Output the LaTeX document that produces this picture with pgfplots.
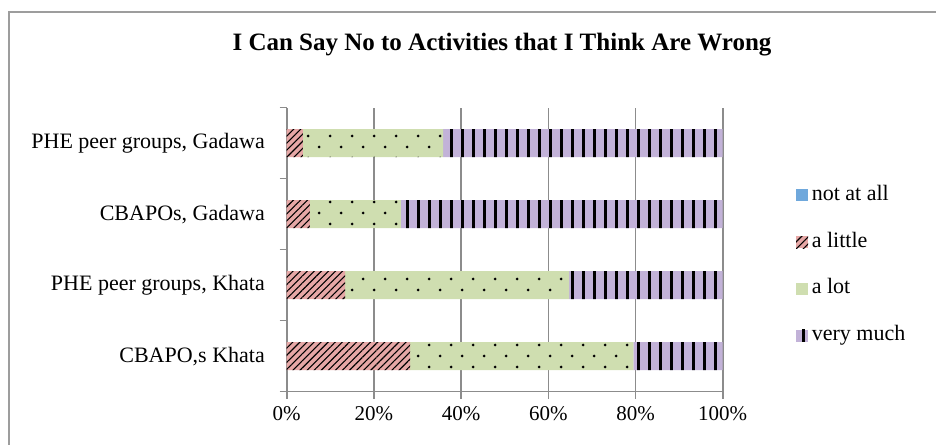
\documentclass[border=0pt]{standalone}
\usepackage{pgfplots}
\pgfplotsset{compat=1.18}
\usepackage{fontspec}
\setmainfont{Liberation Serif}
\usetikzlibrary{patterns.meta}
\definecolor{cblue}{HTML}{6FA8DC}
\definecolor{cpink}{HTML}{E6A7A6}
\definecolor{cgreen}{HTML}{CFDEB0}
\definecolor{cpurple}{HTML}{C2B2D8}
\definecolor{cgrid}{HTML}{8C8C8C}
\pgfplotsset{
  sq/.style={legend image code/.code={\fill[##1] (0pt,-6pt) rectangle (12pt,6pt);}},
}
\begin{document}
\begin{tikzpicture}[x=1pt,y=1pt]
\useasboundingbox (0,0) rectangle (936,444);
\draw[cgrid!85, line width=2pt] (8.5,-2) -- (8.5,432) -- (940,432);
\node[font=\fontsize{25}{29}\selectfont\bfseries] at (502,444-45) {I Can Say No to Activities that I Think Are Wrong};
\begin{axis}[
  at={(286.7pt,52.3pt)}, anchor=south west,
  scale only axis, width=436pt, height=284pt,
  xbar stacked, bar width=28pt,
  xmin=0, xmax=100, ymin=-0.5, ymax=3.5,
  axis x line*=bottom, axis y line*=left,
  axis line style={cgrid, line width=1.6pt},
  xtick={0,20,...,100}, xtick pos=bottom,
  /pgf/number format/assume math mode=true,
  xticklabel={\pgfmathprintnumber{\tick}\%},
  xticklabel style={font=\fontsize{21}{24}\selectfont, yshift=-4pt},
  xmajorgrids, grid style={cgrid, line width=1.6pt},
  tick align=outside, major tick length=7pt,
  tick style={cgrid, line width=1.6pt},
  ytick={-0.5,0.5,1.5,2.5,3.5}, yticklabels={},
  extra y ticks={0,1,2,3},
  extra y tick labels={CBAPO\rlap{,}\hphantom{,}s Khata, {PHE peer groups, Khata}, {CBAPOs, Gadawa}, {PHE peer groups, Gadawa}},
  extra y tick style={major tick length=0pt, yticklabel style={font=\fontsize{22}{26}\selectfont, inner sep=0pt, xshift=-21.7pt}},
  legend style={draw=none, fill=none, inner sep=0pt, at={(1.168,0.727)}, anchor=north west,
    font=\fontsize{22}{26}\selectfont, row sep=26.7pt,
    nodes={inner sep=0pt, text height=15pt, text depth=5pt}},
  legend cell align=left,
  every axis plot/.append style={draw=none},
]
\addplot[fill=cblue, sq] coordinates {(0,0) (0,1) (0,2) (0,3)};
\addlegendentry{\,not at all}
\addplot[fill=cpink, postaction={pattern={Lines[angle=45, distance=5pt, line width=1.1pt]}, pattern color=black}, sq]
  coordinates {(28.3,0) (13.4,1) (5.3,2) (3.7,3)};
\addlegendentry{\,a little}
\addplot[fill=cgreen, postaction={pattern={Dots[distance=22pt, radius=1.5pt]}, pattern color=black},
  postaction={pattern={Dots[distance=22pt, radius=1.5pt, xshift=11pt, yshift=11pt]}, pattern color=black}, sq]
  coordinates {(51.2,0) (51.4,1) (20.9,2) (32.2,3)};
\addlegendentry{\,a lot}
\addplot[fill=cpurple, postaction={pattern={Lines[angle=90, distance=11pt, line width=3pt]}, pattern color=black}, sq]
  coordinates {(20.5,0) (35.2,1) (73.8,2) (64.1,3)};
\addlegendentry{\,very much}
\end{axis}
\end{tikzpicture}
\end{document}
